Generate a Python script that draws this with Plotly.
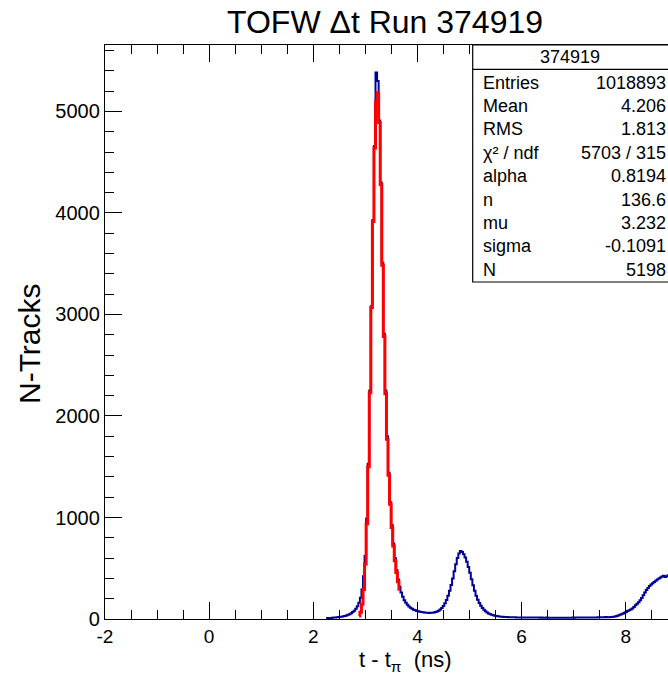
import numpy as np
import plotly.graph_objects as go

# ---- histogram definition (bin centres start at 2.25 ns, 0.03 ns wide) ----
bin_start = 2.25
bin_width = 0.03

# TOFW delta-t counts per bin, 10 bins (0.3 ns) per row
counts = [
    7, 9, 10, 11, 12, 14, 15, 17, 19, 21,                      # 2.25
    23, 26, 30, 35, 41, 48, 57, 68, 82, 100,                   # 2.55
    125, 160, 210, 290, 420, 620, 990, 1530, 2250, 3080,       # 2.85
    3930, 4660, 5385, 5300, 4910, 4300, 3510, 2810, 2250, 1800,  # 3.15
    1440, 1150, 925, 745, 600, 482, 390, 318, 262, 218,        # 3.45
    185, 160, 140, 124, 111, 100, 92, 85, 80, 76,              # 3.75
    72, 69, 67, 64, 62, 61, 60, 61, 62, 65,                    # 4.05
    69, 74, 82, 93, 108, 128, 155, 188, 230, 278,              # 4.35
    335, 400, 470, 540, 600, 645, 670, 660, 638, 605,          # 4.65
    565, 512, 455, 392, 332, 278, 230, 190, 158, 130,          # 4.95
    108, 90, 76, 64, 55, 47, 41, 36, 32, 29,                   # 5.25
    26, 24, 22, 21, 20, 19, 19, 18, 18, 17,                    # 5.55
    17, 17, 16, 16, 16, 16, 15, 16, 15, 15,                    # 5.85
    15, 14, 15, 14, 14, 14, 14, 13, 14, 13,                    # 6.15
    13, 14, 13, 13, 13, 13, 13, 13, 12, 13,                    # 6.45
    13, 12, 13, 13, 13, 13, 13, 13, 14, 13,                    # 6.75
    14, 14, 14, 15, 14, 15, 15, 15, 16, 16,                    # 7.05
    15, 16, 16, 16, 17, 17, 17, 18, 18, 19,                    # 7.35
    17, 18, 19, 20, 22, 25, 29, 35, 42, 48,                    # 7.65
    55, 62, 70, 78, 86, 94, 103, 118, 135, 150,                # 7.95
    166, 185, 208, 235, 262, 285, 305, 325, 340, 352,          # 8.25
    365, 378, 390, 400, 410, 418, 425, 415, 422, 430,          # 8.55
    418,                                                       # 8.85
]

# Crystal-ball fit evaluated per bin, first bin centre 2.88 ns
fit_first_bin = 21
fit_counts = [
    29, 67, 145, 291, 543, 938, 1500, 2228, 3068, 3917,
    4640, 5094, 5184, 4892, 4280, 3484, 2783, 2220, 1772, 1415,
    1130, 902, 720, 574, 458, 366, 292,
]

x_tick_vals = [-2, 0, 2, 4, 6, 8]
x_tick_text = ["-2", "0", "2", "4", "6", "8"]
y_tick_vals = [0, 1000, 2000, 3000, 4000, 5000]
y_tick_text = ["0", "1000", "2000", "3000", "4000", "5000"]

stats_title = "374919"
stats_labels = ["Entries", "Mean", "RMS", "χ² / ndf", "alpha", "n", "mu", "sigma", "N"]
stats_values = ["1018893", "4.206", "1.813", "5703 / 315", "0.8194", "136.6", "3.232", "-0.1091", "5198"]

centres = bin_start + bin_width * np.arange(len(counts))
fit_centres = bin_start + bin_width * (fit_first_bin + np.arange(len(fit_counts)))

FONT = "Liberation Sans, Arial, sans-serif"
W, H = 668, 676
ML, MR, MT, MB = 105, 0, 45, 57
PW, PH = W - ML - MR, H - MT - MB


def px(xp):
    return (xp - ML) / PW


def py(yp):
    return (H - MB - yp) / PH


fig = go.Figure()
fig.add_trace(go.Scatter(
    x=centres, y=counts, mode="lines",
    line=dict(color="#000096", width=2, shape="hvh"),
    hoverinfo="skip", showlegend=False,
))
fig.add_trace(go.Scatter(
    x=fit_centres, y=fit_counts, mode="lines",
    line=dict(color="#ff0000", width=3, shape="hvh"),
    hoverinfo="skip", showlegend=False,
))

axis_common = dict(
    showline=True, linecolor="black", linewidth=1.3,
    ticks="inside", ticklen=17, tickwidth=1.2, tickcolor="black",
    showgrid=False, zeroline=False,
    tickmode="array",
)
fig.update_xaxes(
    **axis_common, range=[-2, 8.812], mirror="ticks",
    tickfont=dict(family=FONT, size=19, color="black"),
    tickvals=x_tick_vals, ticktext=x_tick_text,
    minor=dict(ticks="inside", ticklen=9, tickwidth=1.2, tickcolor="black",
               tickmode="linear", tick0=0, dtick=0.5, showgrid=False),
)
fig.update_yaxes(
    **axis_common, range=[0, 5655], mirror=False,
    tickfont=dict(family=FONT, size=20, color="black"),
    tickvals=y_tick_vals, ticktext=y_tick_text,
    minor=dict(ticks="inside", ticklen=9, tickwidth=1.2, tickcolor="black",
               tickmode="linear", tick0=0, dtick=200, showgrid=False),
)

# statistics box
box_left, box_top, box_bottom, head_line = 472.7, 45, 282, 69.3
fig.add_shape(type="rect", xref="paper", yref="paper",
              x0=px(box_left), x1=1.02, y0=py(box_bottom), y1=py(box_top),
              fillcolor="white", line=dict(color="black", width=1.2), layer="above")
fig.add_shape(type="line", xref="paper", yref="paper",
              x0=px(box_left), x1=1.02, y0=py(head_line), y1=py(head_line),
              line=dict(color="black", width=1.2), layer="above")

BOX_FONT = dict(family=FONT, size=18, color="black")
annotations = [
    dict(text=stats_title, x=px(570), y=py(57), xanchor="center", yanchor="middle",
         font=BOX_FONT),
]
for i, (lab, val) in enumerate(zip(stats_labels, stats_values)):
    yy = py(82.7 + 23.4 * i)
    annotations.append(dict(text=lab, x=px(481), y=yy, xanchor="left", yanchor="middle",
                            font=BOX_FONT))
    annotations.append(dict(text=val, x=px(667.5), y=yy, xanchor="right", yanchor="middle",
                            font=BOX_FONT))

# titles
annotations.append(dict(text="TOFW Δt Run 374919", x=px(385), y=py(22),
                        xanchor="center", yanchor="middle",
                        font=dict(family=FONT, size=32, color="black")))
annotations.append(dict(text="N-Tracks", x=px(29), y=py(344), textangle=-90,
                        xanchor="center", yanchor="middle",
                        font=dict(family=FONT, size=30, color="black")))
annotations.append(dict(text="t\u00a0-\u00a0t<sub>π</sub>\u00a0\u00a0(ns)", x=px(405), y=py(676),
                        xanchor="center", yanchor="bottom", borderpad=0,
                        font=dict(family=FONT, size=22, color="black")))
for a in annotations:
    a.update(xref="paper", yref="paper", showarrow=False)

fig.update_layout(
    width=W, height=H,
    margin=dict(l=ML, r=MR, t=MT, b=MB, pad=0),
    paper_bgcolor="white", plot_bgcolor="white",
    annotations=annotations,
    showlegend=False,
)

fig.write_html("out.html")
